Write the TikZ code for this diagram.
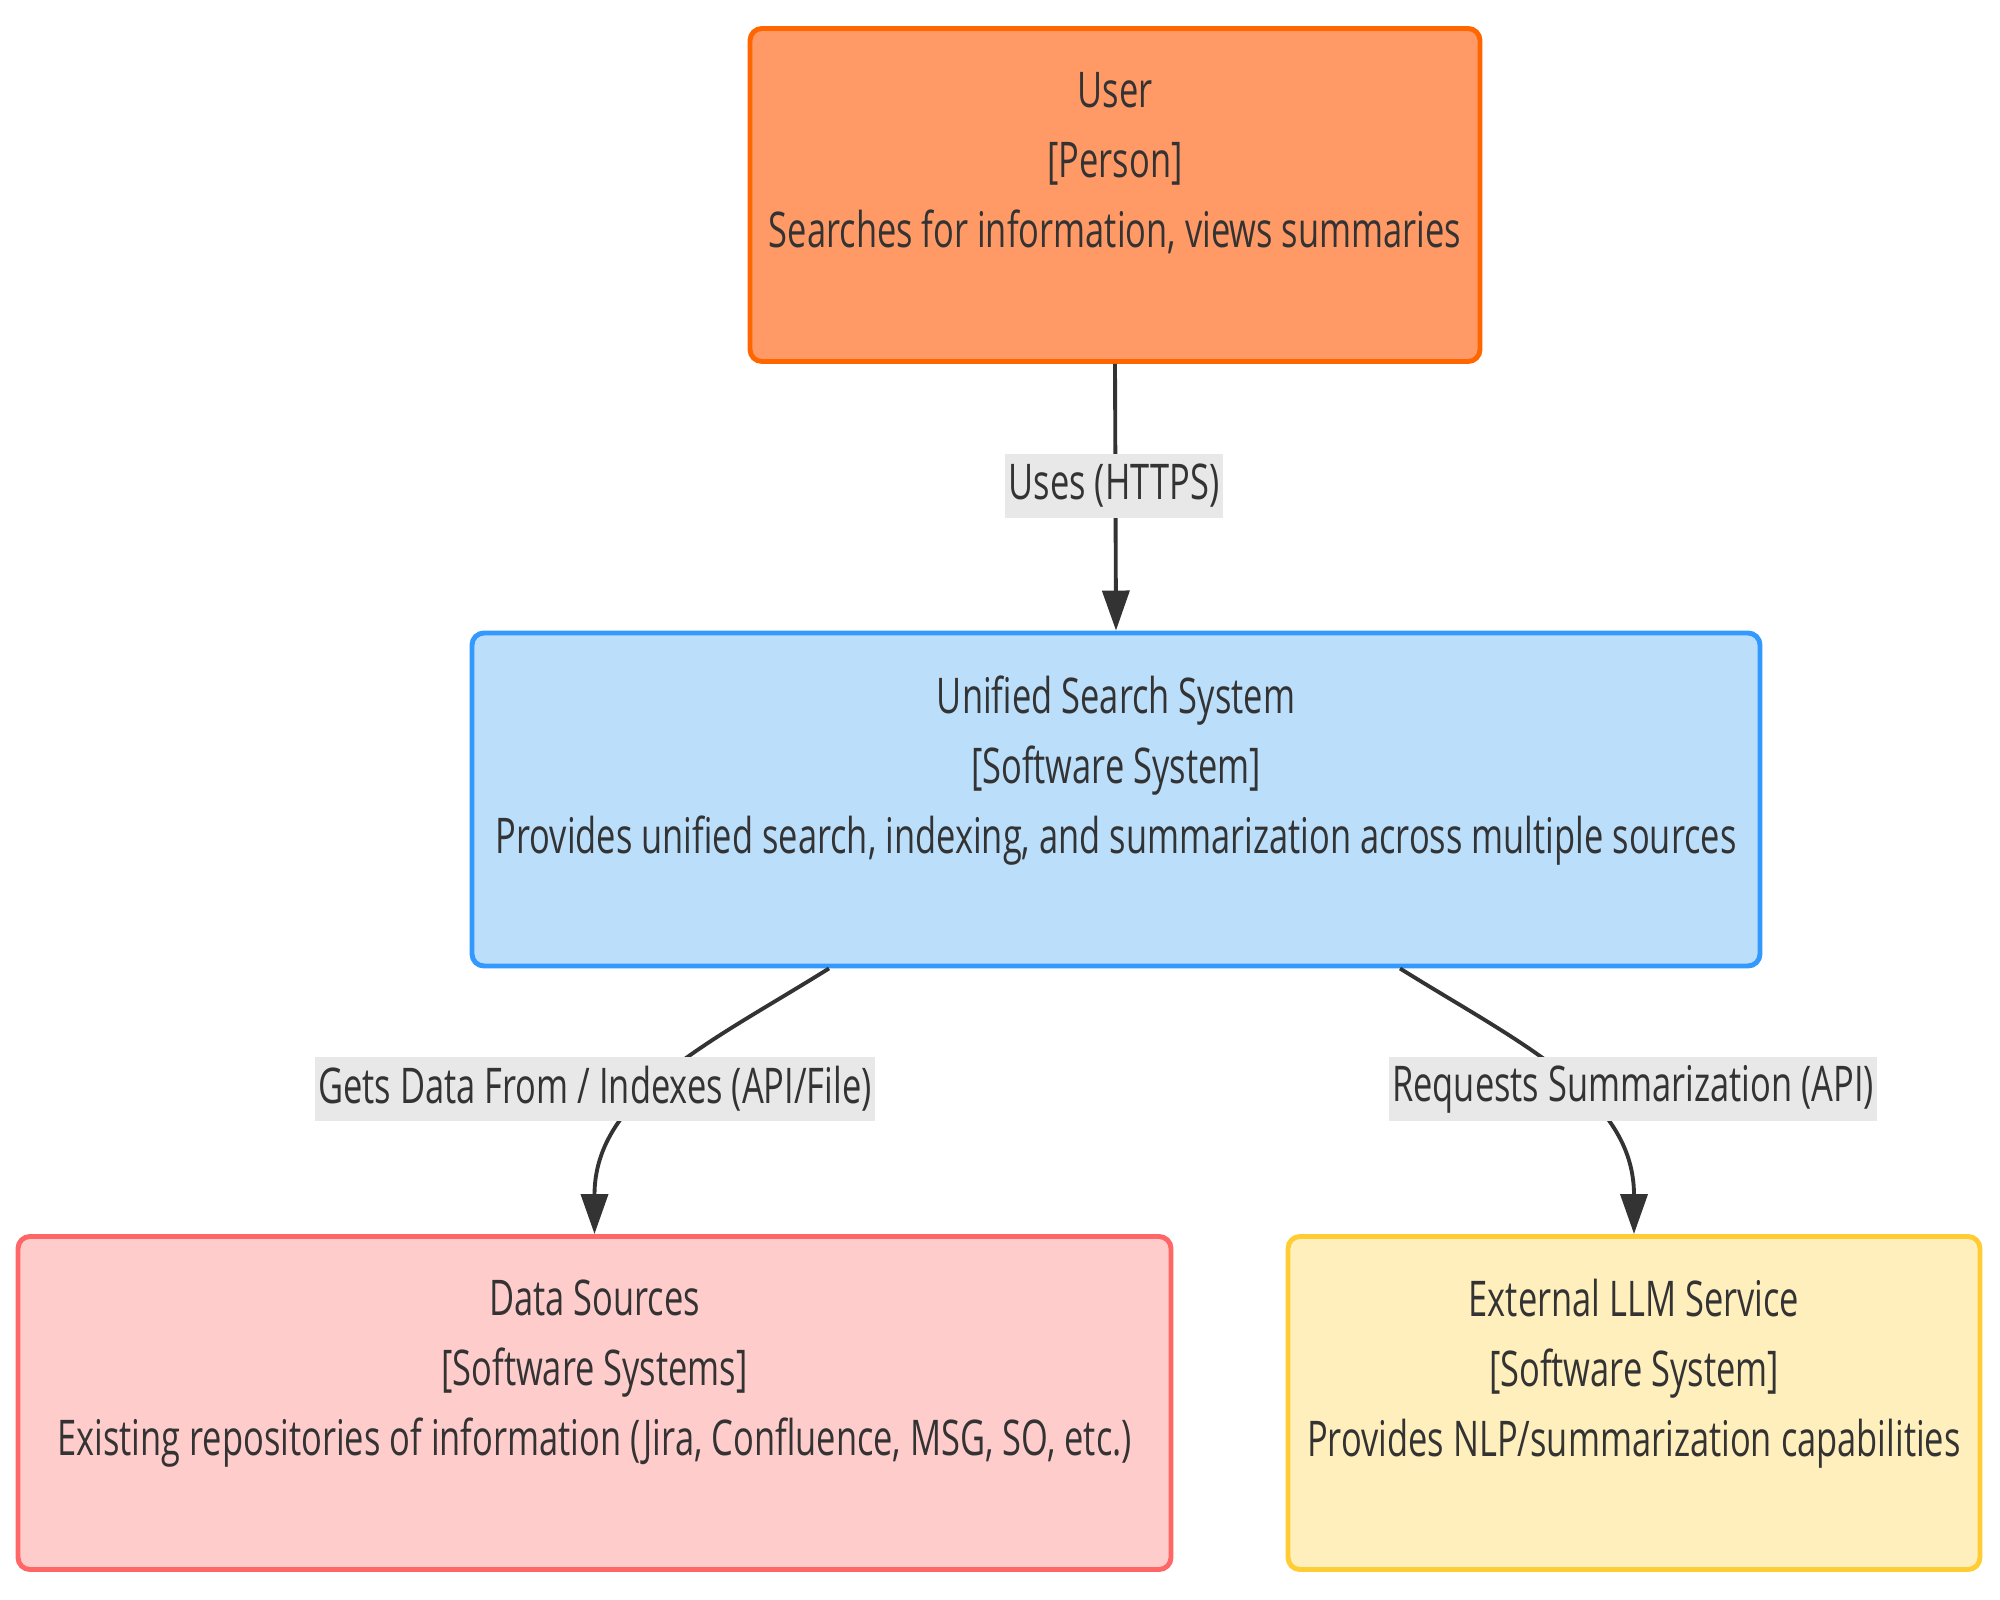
\documentclass[tikz,border=0pt]{standalone}
\usepackage{fontspec}
\setmainfont{Open Sans}[FakeStretch=0.7]
\usetikzlibrary{arrows.meta}
\definecolor{txtgray}{HTML}{333333}
\definecolor{lblgray}{HTML}{E8E8E8}
\definecolor{userfill}{HTML}{FF9966}
\definecolor{userdraw}{HTML}{FF6600}
\definecolor{sysfill}{HTML}{BBDEFB}
\definecolor{sysdraw}{HTML}{3399FF}
\definecolor{srcfill}{HTML}{FFCCCC}
\definecolor{srcdraw}{HTML}{FF6666}
\definecolor{llmfill}{HTML}{FFEFBD}
\definecolor{llmdraw}{HTML}{FFCC33}
\tikzset{
	c4box/.style = {
		rectangle,
		rounded corners=0.12cm,
		align=center,
		inner sep=0pt,
		text=txtgray,
		line width=1.4pt,
		minimum height=3.33cm,
		font=\fontsize{14}{19.9}\selectfont
	},
	node_user/.style = {
		c4box,
		draw=userdraw,
		fill=userfill,
		minimum width=7.3cm
	},
	node_sys/.style = {
		c4box,
		draw=sysdraw,
		fill=sysfill,
		minimum width=12.88cm
	},
	node_src/.style = {
		c4box,
		draw=srcdraw,
		fill=srcfill,
		minimum width=11.53cm
	},
	node_llm/.style = {
		c4box,
		draw=llmdraw,
		fill=llmfill,
		minimum width=6.92cm
	},
	edge_lbl/.style = {
		fill=lblgray,
		text=txtgray,
		inner xsep=1pt,
		inner ysep=0pt,
		minimum height=0.64cm,
		font=\fontsize{14}{16}\selectfont
	},
	edge/.style = {
		->,
		draw=txtgray,
		line width=1.1pt
	},
}

\begin{document}
\begin{tikzpicture}[>={Triangle[length=0.4cm,width=0.27cm]}]
\useasboundingbox (0,0) rectangle (20,-16);

% systems
\node [node_user] (user) at (11.15,-1.95)
	{User\\{[Person]}\\Searches for information, views summaries\\\mbox{}};
\node [node_sys] (uss) at (11.16,-7.995)
	{Unified Search System\\{[Software System]}\\Provides unified search, indexing, and summarization across multiple sources\\\mbox{}};
\node [node_src] (datasrc) at (5.945,-14.03)
	{Data Sources\\{[Software Systems]}\\Existing repositories of information (Jira, Confluence, MSG, SO, etc.)\\\mbox{}};
\node [node_llm] (llm) at (16.34,-14.03)
	{External LLM Service\\{[Software System]}\\Provides NLP/summarization capabilities\\\mbox{}};

% relations
\draw [edge] (user.south) -- (uss.north);
\draw [edge] ([xshift=-2.87cm]uss.south) to[out=-148, in=90] (datasrc.north);
\draw [edge] ([xshift=2.84cm]uss.south) to[out=-32, in=90] (llm.north);

\node [edge_lbl] (l_uses) at (11.14,-4.86) {Uses (HTTPS)};
\node [edge_lbl] (l_data) at (5.95,-10.89) {Gets Data From / Indexes (API/File)};
\node [edge_lbl] (l_llm) at (16.33,-10.89) {Requests Summarization (API)};
\end{tikzpicture}
\end{document}
